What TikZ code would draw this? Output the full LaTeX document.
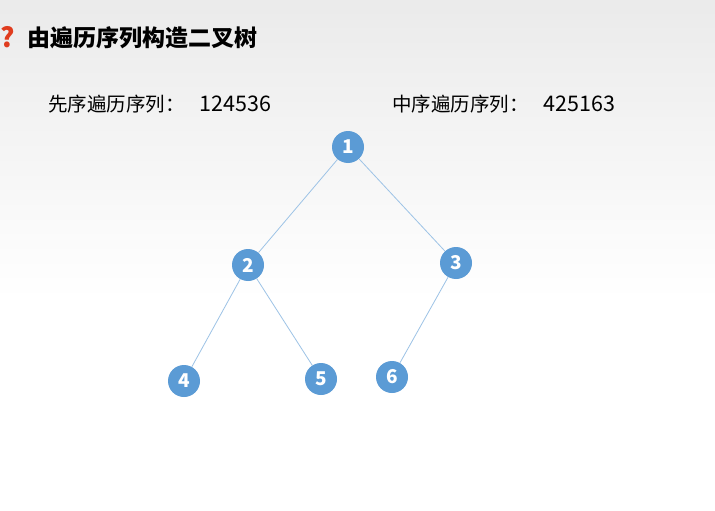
\documentclass[tikz,border=0pt]{standalone}
\usepackage{fontspec}
\setmainfont{Noto Sans CJK SC}
\newfontfamily\cjk{Noto Sans CJK SC}
\definecolor{nodeblue}{HTML}{5B9BD5}
\definecolor{edgeblue}{HTML}{9DC3E6}
\definecolor{qred}{HTML}{E03C1E}
\newcommand{\seqnum}[1]{\hspace{15pt}{\fontsize{21.5pt}{21.5pt}\selectfont #1}}
\tikzset{
  vertex/.style={circle,fill=nodeblue,text=white,minimum size=32pt,inner sep=0pt,font=\fontsize{19pt}{19pt}\selectfont\bfseries},
  label/.style={anchor=base west,inner sep=0pt,font=\fontsize{19.5pt}{19.5pt}\selectfont}
}
\begin{document}
\begin{tikzpicture}[x=1pt,y=-1pt]
      \useasboundingbox (0,0) rectangle (715,511);
      \shade[top color=black!8,bottom color=white] (0,0) rectangle (715,300);
      \fill[white] (0,300) rectangle (715,511);
      \node[anchor=base west,inner sep=0pt,text=qred,font=\fontsize{27pt}{27pt}\selectfont\bfseries] (q) at (0,48) {?};
      \node[anchor=base west,inner sep=0pt,font=\fontsize{23pt}{23pt}\selectfont\bfseries] (title) at (27,47) {由遍历序列构造二叉树};
      \node[label] (pre) at (48,111) {先序遍历序列：\seqnum{124536}};
      \node[label] (in) at (392,111) {中序遍历序列：\seqnum{425163}};
      \begin{scope}[every node/.style={vertex}]
      \draw
        (348,147) node (1){1}
        (248,265) node (2){2}
        (456,263) node (3){3}
        (184,381) node (4){4}
        (321,379) node (5){5}
        (392,377) node (6){6};
      \end{scope}
      \begin{scope}[-,draw=edgeblue,line width=0.8pt]
        \draw (1) to (2);
        \draw (1) to (3);
        \draw (2) to (4);
        \draw (2) to (5);
        \draw (3) to (6);
      \end{scope}
    \end{tikzpicture}
\end{document}
